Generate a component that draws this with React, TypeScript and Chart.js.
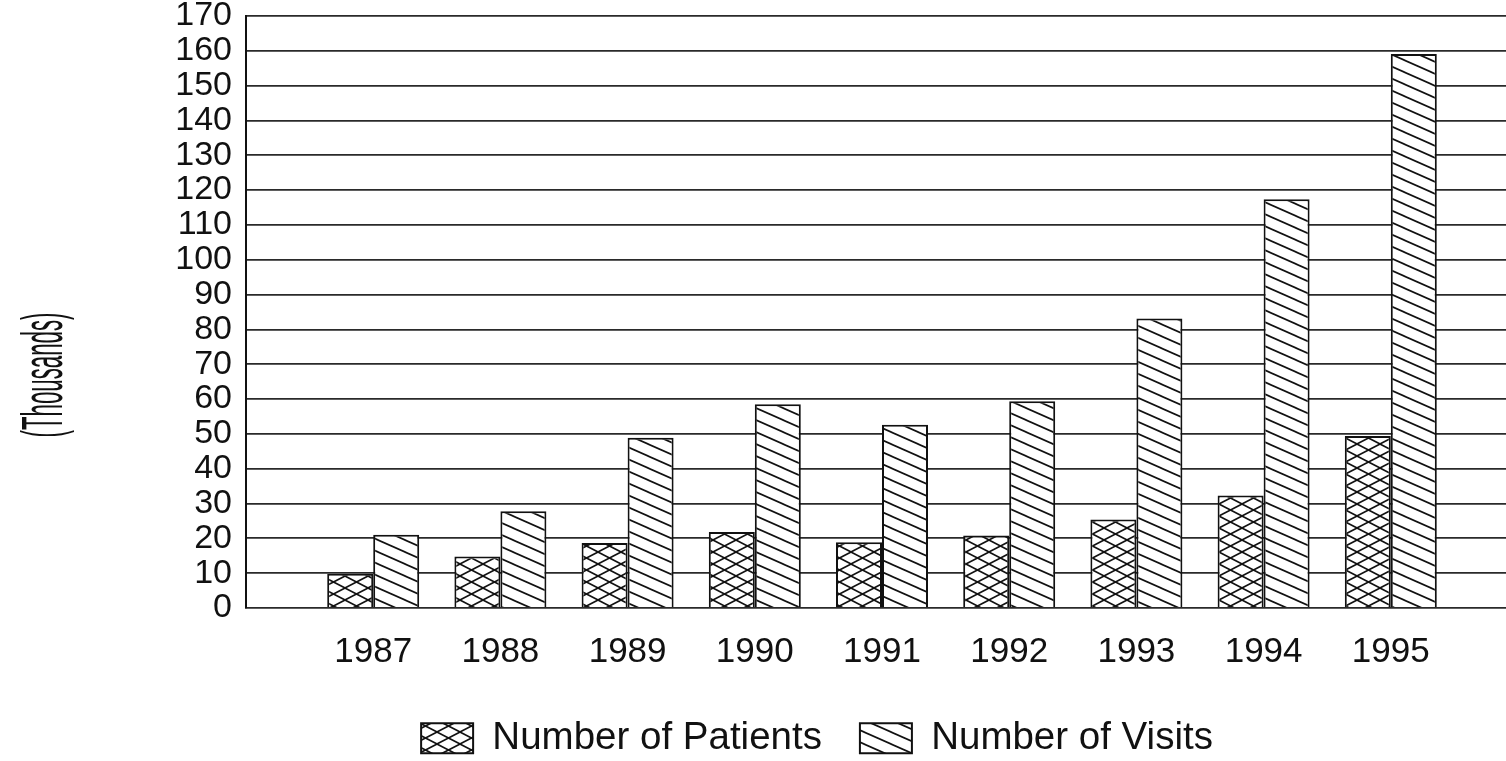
import React, { useEffect, useRef } from "react";
import { Chart, registerables } from "chart.js";

Chart.register(...registerables);

const years = ["1987", "1988", "1989", "1990", "1991", "1992", "1993", "1994", "1995"];
const patients = [9.8, 14.8, 18.7, 21.8, 18.9, 20.8, 25.4, 32.3, 49.4];
const visits = [21.0, 27.8, 48.9, 58.5, 52.6, 59.4, 83.1, 117.4, 159.1];
const seriesNames = ["Number of Patients", "Number of Visits"];
const yTitle = "(Thousands)";
const yMin = 0;
const yMax = 170;
const yStep = 10;

const FONT = "'Liberation Sans', Arial, sans-serif";

function makeCross(): CanvasPattern | string {
  const c = document.createElement("canvas");
  const w = 23, h = 12;
  c.width = w; c.height = h;
  const g = c.getContext("2d");
  if (!g) return "#fff";
  g.fillStyle = "#fff";
  g.fillRect(0, 0, w, h);
  g.strokeStyle = "#111";
  g.lineWidth = 1.6;
  for (const dx of [-w, 0, w]) {
    g.beginPath(); g.moveTo(dx, 0); g.lineTo(dx + w, h); g.stroke();
    g.beginPath(); g.moveTo(dx, h); g.lineTo(dx + w, 0); g.stroke();
  }
  return g.createPattern(c, "repeat") || "#fff";
}

function makeDiag(): CanvasPattern | string {
  const c = document.createElement("canvas");
  const w = 27, h = 12;
  c.width = w; c.height = h;
  const g = c.getContext("2d");
  if (!g) return "#fff";
  g.fillStyle = "#fff";
  g.fillRect(0, 0, w, h);
  g.strokeStyle = "#111";
  g.lineWidth = 1.7;
  for (const dy of [-h, 0, h]) {
    g.beginPath(); g.moveTo(-w, dy - h); g.lineTo(2 * w, dy + 2 * h); g.stroke();
  }
  return g.createPattern(c, "repeat") || "#fff";
}

const yTitlePlugin = {
  id: "yTitleCondensed",
  afterDraw(chart: any) {
    const ctx = chart.ctx as CanvasRenderingContext2D;
    ctx.save();
    ctx.font = `58px ${FONT}`;
    const w = ctx.measureText(yTitle).width;
    ctx.translate(46, 375);
    ctx.rotate(-Math.PI / 2);
    ctx.scale(125 / w, 1);
    ctx.fillStyle = "#111";
    ctx.textAlign = "center";
    ctx.textBaseline = "middle";
    ctx.fillText(yTitle, 0, 0);
    ctx.restore();
  },
};

const legendHeightPlugin = {
  id: "legendHeight",
  afterInit(chart: any) {
    const lg = chart.legend;
    if (!lg) return;
    const orig = lg.fit.bind(lg);
    lg.fit = function () {
      orig();
      this.height = 80;
    };
  },
};

export default function App() {
  const ref = useRef<HTMLCanvasElement | null>(null);

  useEffect(() => {
    if (!ref.current) return;
    const labels = ["", ...years, ""];
    const chart = new Chart(ref.current, {
      type: "bar",
      data: {
        labels,
        datasets: [
          {
            label: seriesNames[0],
            data: [null, ...patients, null],
            backgroundColor: makeCross() as any,
            borderColor: "#111",
            borderWidth: 2,
            categoryPercentage: 0.7233,
            barPercentage: 1,
          },
          {
            label: seriesNames[1],
            data: [null, ...visits, null],
            backgroundColor: makeDiag() as any,
            borderColor: "#111",
            borderWidth: 2,
            categoryPercentage: 0.7233,
            barPercentage: 1,
          },
        ],
      },
      options: {
        animation: false,
        responsive: false,
        maintainAspectRatio: false,
        layout: { padding: { left: 116, right: 0, top: 16, bottom: 0 } },
        plugins: {
          tooltip: { enabled: false },
          legend: {
            position: "bottom",
            labels: {
              color: "#111",
              font: { family: FONT, size: 38.5 },
              boxWidth: 52,
              boxHeight: 30,
              padding: 38,
            },
          },
        },
        scales: {
          x: {
            offset: false,
            afterFit: (scale: any) => {
              scale.height = 73;
              scale.paddingLeft = 0;
              scale.paddingRight = 0;
            },
            grid: { display: false, drawTicks: false },
            border: { display: false },
            ticks: {
              color: "#111",
              font: { family: FONT, size: 35 },
              padding: 23,
              maxRotation: 0,
              autoSkip: false,
            },
          },
          y: {
            min: yMin,
            max: yMax,
            afterFit: (scale: any) => {
              scale.width = 130;
              scale.paddingTop = 0;
              scale.paddingBottom = 0;
            },
            grid: { color: "#2a2a2a", lineWidth: 1.8, drawTicks: false },
            border: { display: true, color: "#111", width: 2 },
            ticks: {
              stepSize: yStep,
              autoSkip: false,
              color: "#111",
              font: { family: FONT, size: 34, lineHeight: 1 },
              padding: 14,
            },
          },
        },
      },
      plugins: [yTitlePlugin, legendHeightPlugin],
    });
    return () => chart.destroy();
  }, []);

  return (
    <div style={{ position: "absolute", left: 0, top: 0, width: 1506, height: 761, overflow: "hidden", background: "#fff" }}>
      <canvas ref={ref} width={1518} height={761} style={{ width: 1518, height: 761, display: "block" }} />
    </div>
  );
}
